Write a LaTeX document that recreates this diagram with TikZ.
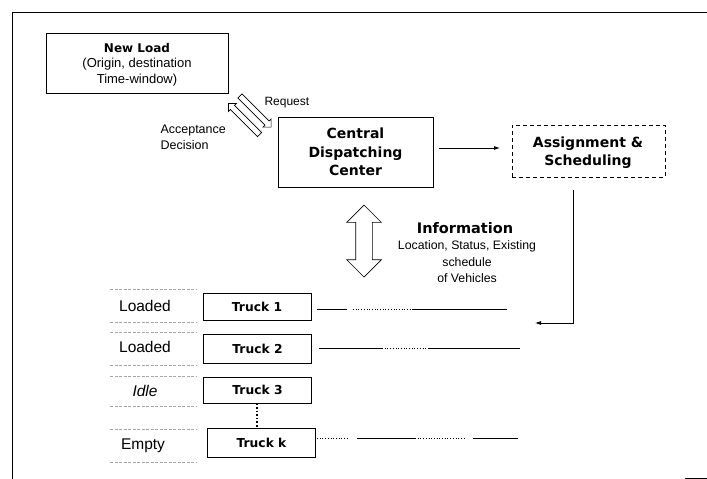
\documentclass[tikz,border=0pt]{standalone}
\usepackage{fontspec}
\setmainfont{Liberation Sans}
\newfontfamily\dvs{DejaVu Sans}
\usetikzlibrary{shapes.arrows,arrows.meta}
\tikzset{
  box/.style={draw, line width=0.8pt, inner sep=0pt},
  ttl/.style={font=\dvs\bfseries\fontsize{14}{18.5}\selectfont, align=center},
  txt/.style={font=\fontsize{12.5}{16}\selectfont, align=center},
  lbl/.style={font=\fontsize{15.5}{17}\selectfont},
  truckbox/.style={draw, line width=0.8pt, minimum width=108pt, minimum height=27pt, inner sep=0pt, font=\dvs\bfseries\fontsize{12.3}{14}\selectfont},
  hollow/.style={draw, line width=0.7pt},
  faint/.style={draw=black!35, line width=0.4pt, dash pattern=on 3pt off 1.5pt},
  solidseg/.style={line width=0.9pt},
  dotseg/.style={line width=0.7pt, dotted},
  conn/.style={line width=0.8pt, -{Latex[length=6pt,width=4pt]}}
}
\begin{document}
\begin{tikzpicture}[x=1pt,y=-1pt]
\useasboundingbox (0,0) rectangle (707,479);
% frame
\draw[line width=0.8pt] (12,479) -- (12,12) -- (707,12);
\draw[line width=0.8pt] (685,478) -- (707,478);

% New Load
\node[box, minimum width=182pt, minimum height=60pt] (load) at (137,63) {};
\node[font=\dvs\bfseries\fontsize{12}{15}\selectfont] (loadt) at (137,48) {New Load};
\node[txt, font=\fontsize{13}{16}\selectfont] (loads) at (137,72.5) {(Origin, destination\\Time-window)};

% request / acceptance arrows
\node[single arrow, hollow, inner sep=2.6pt, minimum height=44pt, minimum width=11pt, single arrow head extend=2.8pt, rotate=-45] (req) at (254.5,110.5) {};
\node[single arrow, hollow, inner sep=2.6pt, minimum height=44pt, minimum width=11pt, single arrow head extend=2.8pt, rotate=135] (acc) at (245,120) {};
\node[txt, font=\fontsize{12}{16}\selectfont, anchor=west] (reqt) at (261,103) {Request};
\node[txt, anchor=west, align=left] (acct) at (157,137) {Acceptance\\Decision};

% Central dispatching center
\node[box, minimum width=155pt, minimum height=70pt] (cdc) at (355.5,152) {};
\node[ttl] (cdct) at (355.5,152) {Central\\Dispatching\\Center};

% Assignment & scheduling
\node[box, dashed, dash pattern=on 4pt off 3pt, minimum width=153pt, minimum height=52pt] (asg) at (588.5,151) {};
\node[ttl] (asgt) at (588,152.5) {Assignment \&\\Scheduling};

\draw[conn] (cdc.east |- 0,148) ++(6,0) coordinate (c1) -- (500,148) coordinate (c2);

% information arrow
\node[double arrow, hollow, inner sep=8pt, minimum height=72pt, minimum width=34pt, double arrow head extend=9pt, rotate=90] (info) at (364,241) {};
\node[font=\dvs\bfseries\fontsize{14.5}{17}\selectfont] (infot) at (465,228) {Information};
\node[txt, font=\fontsize{12.3}{16.5}\selectfont] (infos) at (467,262) {Location, Status, Existing\\schedule\\of Vehicles};

% trucks
\node[truckbox] (t1) at (257,306.5) {Truck 1};
\node[truckbox, minimum height=29pt] (t2) at (257.5,348.5) {Truck 2};
\node[truckbox, minimum height=26pt] (t3) at (257.5,390) {Truck 3};
\node[truckbox, minimum height=29pt] (tk) at (261.5,442.5) {Truck k};
\draw[line width=1.6pt, dotted] (t3.south -| 257,0) -- (tk.north -| 257,0);

% state labels
\node[lbl] (l1) at (145,306) {Loaded};
\node[lbl] (l2) at (145,347) {Loaded};
\node[lbl, font=\itshape\fontsize{15.5}{17}\selectfont] (l3) at (145,391) {Idle};
\node[lbl] (l4) at (143,446) {Empty};
\foreach \yy in {289,322,332,365,376,406,429,462}{
  \draw[faint] (110,\yy) -- (197,\yy);
}

% truck schedules
\coordinate (a1) at (317,309); \coordinate (a2) at (347,309); \coordinate (a3) at (353,309); \coordinate (a4) at (413,309); \coordinate (a5) at (507,309);
\draw[solidseg] (a1) -- (a2);
\draw[dotseg] (a3) -- (a4);
\draw[solidseg] (a4) -- (a5);
\coordinate (b1) at (319,348); \coordinate (b2) at (382,348); \coordinate (b3) at (428,348); \coordinate (b4) at (520,348);
\draw[solidseg] (b1) -- (b2);
\draw[dotseg] (b2) -- (b3);
\draw[solidseg] (b3) -- (b4);
\coordinate (k1) at (317,438); \coordinate (k2) at (348,438); \coordinate (k3) at (357,438); \coordinate (k4) at (415,438); \coordinate (k5) at (465,438); \coordinate (k6) at (473,438); \coordinate (k7) at (518,438);
\draw[dotseg] (k1) -- (k2);
\draw[solidseg] (k3) -- (k4);
\draw[dotseg] (k4) -- (k5);
\draw[solidseg] (k6) -- (k7);

% assignment to trucks
\coordinate (ret) at (535,323);
\draw[conn] (asg.south -| 573,0) ++(0,13) -- (573,323) -- (ret);
\end{tikzpicture}
\end{document}
